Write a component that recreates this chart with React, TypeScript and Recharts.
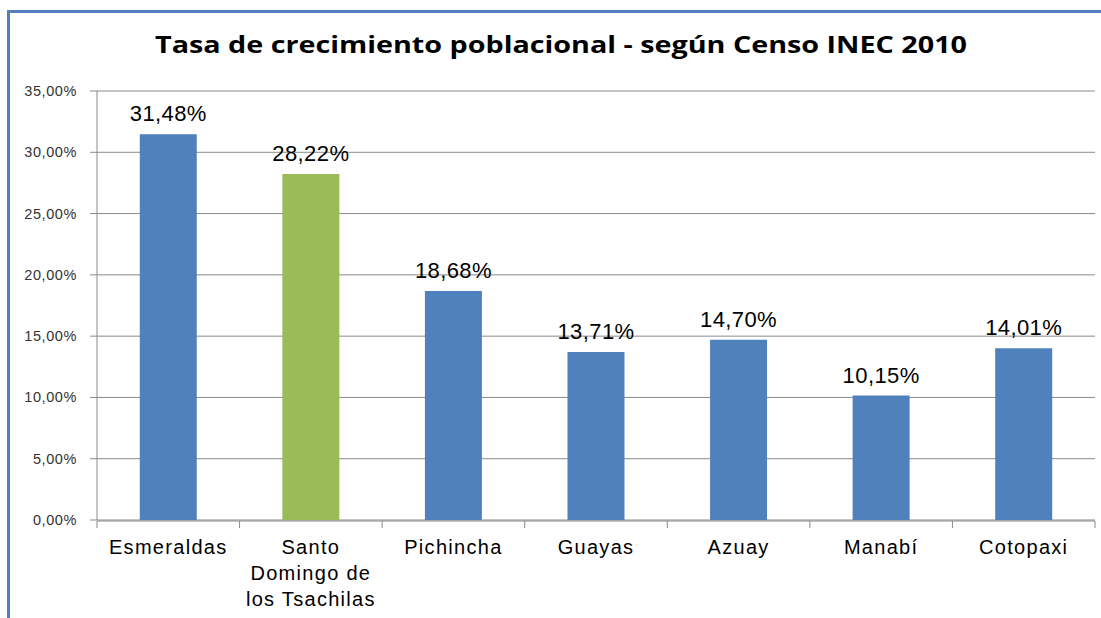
import React from 'react';
import { BarChart, Bar, XAxis, YAxis, CartesianGrid, LabelList, Cell } from 'recharts';

const categories = [
  'Esmeraldas',
  'Santo Domingo de los Tsachilas',
  'Pichincha',
  'Guayas',
  'Azuay',
  'Manabí',
  'Cotopaxi',
];
const values = [31.48, 28.22, 18.68, 13.71, 14.7, 10.15, 14.01];
const barColors = ['#4F81BD', '#9BBB59', '#4F81BD', '#4F81BD', '#4F81BD', '#4F81BD', '#4F81BD'];
const yTicks = [0, 5, 10, 15, 20, 25, 30, 35];
const edgeTicks = [0, 1, 2, 3, 4, 5, 6, 7];
const title = 'Tasa de crecimiento poblacional - según Censo INEC 2010';

const data = categories.map((c, i) => ({ name: c, value: values[i], pos: i + 0.5 }));

const fmt = (v: number) => v.toFixed(2).replace('.', ',') + '%';

const FONT = '"Liberation Sans", Arial, sans-serif';
const GRID = '#8A8A8A';
const X_FONT_SIZE = 20;
const X_LETTER = 1.3;
const X_MAX_W = 142;

let ctx: CanvasRenderingContext2D | null = null;
const measure = (s: string) => {
  if (!ctx && typeof document !== 'undefined') {
    ctx = document.createElement('canvas').getContext('2d');
  }
  if (!ctx) return s.length * X_FONT_SIZE * 0.55;
  ctx.font = `${X_FONT_SIZE}px ${FONT}`;
  return ctx.measureText(s).width + s.length * X_LETTER;
};

const wrap = (s: string) => {
  const words = s.split(' ');
  const lines: string[] = [];
  let cur = '';
  words.forEach((w) => {
    const next = cur ? cur + ' ' + w : w;
    if (cur && measure(next) > X_MAX_W) {
      lines.push(cur);
      cur = w;
    } else {
      cur = next;
    }
  });
  if (cur) lines.push(cur);
  return lines;
};

const XTick = (props: any) => {
  const { x, y, payload } = props;
  const lines = wrap(String(payload.value));
  return (
    <text
      x={x}
      y={y}
      textAnchor="middle"
      fontSize={X_FONT_SIZE}
      fontFamily={FONT}
      fill="#000"
      style={{ letterSpacing: X_LETTER }}
    >
      {lines.map((l, i) => (
        <tspan key={i} x={x} dy={i === 0 ? 34 : 26}>
          {l}
        </tspan>
      ))}
    </text>
  );
};

const EmptyTick = () => <g />;

const YTick = (props: any) => {
  const { x, y, payload } = props;
  return (
    <text x={x} y={y} dy={5} textAnchor="end" fontSize={14.5} fontFamily={FONT} fill="#333" style={{ letterSpacing: 0.6 }}>
      {fmt(payload.value)}
    </text>
  );
};

const DataLabel = (props: any) => {
  const { x, y, width, value } = props;
  return (
    <text x={x + width / 2} y={y - 13} textAnchor="middle" fontSize={22} fontFamily={FONT} fill="#000" style={{ letterSpacing: 0.4 }}>
      {fmt(value)}
    </text>
  );
};

export default function App() {
  return (
    <div style={{ position: 'absolute', left: 0, top: 0, width: 1101, height: 618, overflow: 'hidden', background: '#fff' }}>
      <div
        style={{
          position: 'absolute',
          left: 7,
          top: 10,
          width: 1200,
          height: 700,
          borderTop: '3px solid #4F81BD',
          borderLeft: '3px solid #4F81BD',
        }}
      />
      <div style={{ position: 'absolute', left: 0, top: 0 }}>
        <BarChart
          width={1101}
          height={618}
          data={data}
          margin={{ top: 91, right: 6, bottom: 0, left: 0 }}
          barCategoryGap="30%"
        >
          <CartesianGrid horizontal vertical={false} stroke={GRID} strokeWidth={1} />
          <XAxis
            xAxisId="edges"
            dataKey="pos"
            type="number"
            scale="linear"
            domain={[0, 7]}
            allowDataOverflow
            ticks={edgeTicks}
            interval={0}
            tick={EmptyTick}
            height={97}
            tickSize={7}
            stroke={GRID}
            axisLine={{ stroke: GRID }}
            tickLine={{ stroke: GRID }}
          />
          <XAxis
            dataKey="name"
            xAxisId="cat"
            type="category"
            height={1}
            axisLine={false}
            tickLine={false}
            tickSize={0}
            tickMargin={0}
            interval={0}
            tick={<XTick />}
          />
          <YAxis
            width={97}
            domain={[0, 35]}
            ticks={yTicks}
            interval={0}
            tickSize={7}
            tickMargin={13}
            axisLine={{ stroke: GRID }}
            tickLine={{ stroke: GRID }}
            tick={<YTick />}
          />
          <Bar dataKey="value" xAxisId="cat" isAnimationActive={false}>
            {data.map((d, i) => (
              <Cell key={d.name} fill={barColors[i]} />
            ))}
            <LabelList dataKey="value" content={<DataLabel />} />
          </Bar>
        </BarChart>
      </div>
      <svg width={1101} height={80} style={{ position: 'absolute', left: 0, top: 0, pointerEvents: 'none' }}>
        <text
          x={561}
          y={53}
          textAnchor="middle"
          fontFamily='"Open Sans", "Noto Sans", sans-serif'
          fontWeight="bold"
          fontSize={23.5}
          textLength={812}
          lengthAdjust="spacingAndGlyphs"
          fill="#000"
        >
          {title}
        </text>
      </svg>
    </div>
  );
}
